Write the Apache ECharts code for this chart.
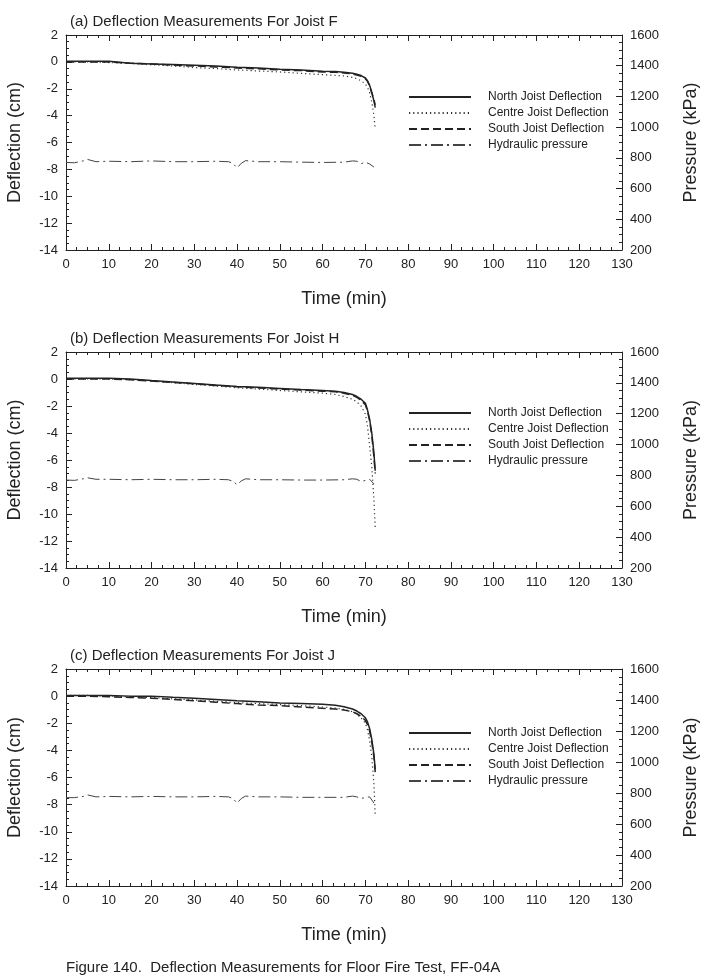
<!DOCTYPE html>
<html>
<head>
<meta charset="utf-8">
<script src="https://cdn.jsdelivr.net/npm/echarts@6/dist/echarts.min.js"></script>
<style>
  html, body { margin: 0; padding: 0; background: #fff; }
  #chart { width: 706px; height: 975px; }
</style>
</head>
<body>
<div id="chart"></div>
<script>
// times (min) for deflection readings
const defTime = [0, 5, 10, 15, 20, 25, 30, 35, 40, 45, 50, 55, 60, 63, 65, 67, 68, 69, 70, 70.5, 71, 71.5, 72, 72.3];
// times (min) for hydraulic pressure readings
const pressTime = [0, 2, 4, 5, 7, 10, 15, 20, 25, 30, 35, 38, 39, 40, 41, 42, 45, 50, 55, 60, 65, 67, 68, 69, 70, 71, 72];

// (a) Joist F
const northF = [0.05, 0.05, 0.05, -0.1, -0.15, -0.2, -0.25, -0.3, -0.4, -0.45, -0.55, -0.6, -0.7, -0.72, -0.78, -0.85, -0.92, -1.02, -1.2, -1.4, -1.75, -2.3, -2.9, -3.4];
const centreF = [0, 0, -0.05, -0.12, -0.22, -0.3, -0.42, -0.5, -0.6, -0.68, -0.75, -0.85, -0.95, -1.0, -1.05, -1.15, -1.25, -1.4, -1.65, -1.9, -2.3, -3.0, -4.0, -5.0];
const southF = [0, 0, 0, -0.1, -0.15, -0.25, -0.3, -0.38, -0.45, -0.52, -0.6, -0.65, -0.75, -0.78, -0.82, -0.9, -0.98, -1.08, -1.25, -1.45, -1.8, -2.3, -2.8, -3.2];
const pressF = [770, 768, 780, 790, 775, 778, 775, 780, 775, 775, 778, 775, 765, 735, 765, 782, 775, 775, 772, 770, 772, 780, 778, 762, 772, 760, 740];

// (b) Joist H
const northH = [0.05, 0.05, 0.05, 0, -0.12, -0.22, -0.33, -0.45, -0.55, -0.62, -0.7, -0.78, -0.85, -0.9, -1.0, -1.15, -1.3, -1.5, -1.8, -2.3, -3.0, -4.0, -5.5, -6.8];
const centreH = [0, 0, 0, -0.05, -0.15, -0.27, -0.4, -0.52, -0.65, -0.75, -0.85, -0.95, -1.05, -1.15, -1.3, -1.5, -1.7, -2.0, -2.6, -3.5, -5.0, -6.5, -9.0, -11.0];
const southH = [0, 0, 0, -0.05, -0.15, -0.25, -0.35, -0.48, -0.58, -0.66, -0.75, -0.82, -0.9, -0.95, -1.05, -1.2, -1.35, -1.6, -1.9, -2.4, -3.1, -4.2, -5.8, -7.0];
const pressH = [770, 768, 778, 785, 775, 775, 772, 775, 772, 772, 775, 772, 762, 740, 765, 778, 772, 772, 770, 770, 772, 778, 775, 760, 768, 775, 745];

// (c) Joist J
const northJ = [0.05, 0.05, 0.05, 0, 0, -0.08, -0.15, -0.25, -0.35, -0.42, -0.5, -0.55, -0.6, -0.68, -0.78, -0.95, -1.1, -1.3, -1.6, -1.9, -2.4, -3.2, -4.3, -5.4];
const centreJ = [0.05, 0.05, 0, -0.05, -0.1, -0.2, -0.28, -0.38, -0.48, -0.55, -0.62, -0.7, -0.8, -0.88, -0.98, -1.15, -1.35, -1.6, -2.0, -2.5, -3.3, -4.5, -6.5, -8.8];
const southJ = [0, 0, -0.05, -0.1, -0.15, -0.25, -0.35, -0.45, -0.55, -0.65, -0.7, -0.8, -0.9, -0.95, -1.03, -1.15, -1.3, -1.5, -1.8, -2.1, -2.6, -3.4, -4.5, -5.6];
const pressJ = [770, 770, 778, 788, 775, 778, 775, 778, 775, 775, 778, 775, 765, 735, 765, 780, 775, 775, 772, 772, 772, 780, 775, 765, 770, 775, 735];

const seriesNames = ['North Joist Deflection', 'Centre Joist Deflection', 'South Joist Deflection', 'Hydraulic pressure'];
const panelTitles = [
  '(a) Deflection Measurements For Joist F',
  '(b) Deflection Measurements For Joist H',
  '(c) Deflection Measurements For Joist J'
];
const caption = 'Figure 140.  Deflection Measurements for Floor Fire Test, FF-04A';

const panels = [
  {north: northF, centre: centreF, south: southF, press: pressF, top: 35, height: 215, legendTop: 91},
  {north: northH, centre: centreH, south: southH, press: pressH, top: 352, height: 216, legendTop: 407},
  {north: northJ, centre: centreJ, south: southJ, press: pressJ, top: 669, height: 217, legendTop: 727},
];

const FONT = '"Liberation Sans", Arial, sans-serif';
const INK = '#222';

const pairs = (xs, ys) => xs.map((x, i) => [x, ys[i]]);

const frameLine = {show: true, onZero: false, lineStyle: {color: INK, width: 1}};
const tickIn = {show: true, inside: true, length: 6, lineStyle: {color: INK}};
const minorIn = {show: true, splitNumber: 4, length: 3, lineStyle: {color: INK}};
const labelStyle = {color: INK, fontSize: 13, fontFamily: FONT, margin: 8, formatter: v => String(v)};
const nameStyle = {color: INK, fontSize: 18, fontFamily: FONT};

const option = {
  animation: false,
  backgroundColor: '#fff',
  grid: [], xAxis: [], yAxis: [], series: [], legend: [], graphic: []
};

panels.forEach((p, k) => {
  option.grid.push({left: 66, width: 556, top: p.top, height: p.height, outerBoundsMode: 'none', containLabel: false});
  // bottom time axis
  option.xAxis.push({
    gridIndex: k, type: 'value', position: 'bottom', min: 0, max: 130, interval: 10,
    name: 'Time (min)', nameLocation: 'middle', nameGap: 40, nameTextStyle: nameStyle,
    axisLine: frameLine, axisTick: tickIn, minorTick: minorIn,
    axisLabel: labelStyle, splitLine: {show: false}
  });
  // top mirror for the frame and ticks
  option.xAxis.push({
    gridIndex: k, type: 'value', position: 'top', min: 0, max: 130, interval: 10,
    axisLine: frameLine, axisTick: tickIn, minorTick: minorIn,
    axisLabel: {show: false}, splitLine: {show: false}
  });
  option.yAxis.push({
    gridIndex: k, type: 'value', position: 'left', min: -14, max: 2, interval: 2,
    name: 'Deflection (cm)', nameLocation: 'middle', nameGap: 42, nameTextStyle: nameStyle,
    axisLine: frameLine, axisTick: tickIn, minorTick: minorIn,
    axisLabel: labelStyle, splitLine: {show: false}
  });
  option.yAxis.push({
    gridIndex: k, type: 'value', position: 'right', min: 200, max: 1600, interval: 200,
    name: 'Pressure (kPa)', nameLocation: 'middle', nameGap: 60, nameTextStyle: nameStyle,
    axisLine: frameLine, axisTick: tickIn, minorTick: minorIn,
    axisLabel: labelStyle, splitLine: {show: false}
  });

  const xi = k * 2, yl = k * 2, yr = k * 2 + 1;
  const base = {type: 'line', symbol: 'none', xAxisIndex: xi, silent: true};
  option.series.push(
    {...base, name: seriesNames[0], yAxisIndex: yl, data: pairs(defTime, p.north),
      lineStyle: {color: INK, width: 1.5, type: 'solid'}, itemStyle: {color: INK}},
    {...base, name: seriesNames[1], yAxisIndex: yl, data: pairs(defTime, p.centre),
      lineStyle: {color: '#333', width: 1.2, type: [1.2, 3]}, itemStyle: {color: '#333'}},
    {...base, name: seriesNames[2], yAxisIndex: yl, data: pairs(defTime, p.south),
      lineStyle: {color: INK, width: 1.5, type: [8, 4]}, itemStyle: {color: INK}},
    {...base, name: seriesNames[3], yAxisIndex: yr, data: pairs(pressTime, p.press),
      lineStyle: {color: '#444', width: 1, type: [12, 4, 2, 4]}, itemStyle: {color: '#444'}}
  );

  option.legend.push({
    data: seriesNames, orient: 'vertical', left: 408, top: p.legendTop, padding: 0,
    itemWidth: 62, itemHeight: 11, itemGap: 4, selectedMode: false,
    itemStyle: {opacity: 0},
    textStyle: {color: INK, fontSize: 12, fontFamily: FONT, padding: [0, 0, 0, 12]}
  });

  option.graphic.push({
    type: 'text', left: 70, top: p.top - 21,
    style: {text: panelTitles[k], fill: INK, font: '15px ' + FONT}
  });
});

option.graphic.push({
  type: 'text', left: 66, top: 960,
  style: {text: caption, fill: INK, font: '15px ' + FONT}
});

const chart = echarts.init(document.getElementById('chart'), null, {renderer: 'canvas'});
chart.setOption(option);
</script>
</body>
</html>
